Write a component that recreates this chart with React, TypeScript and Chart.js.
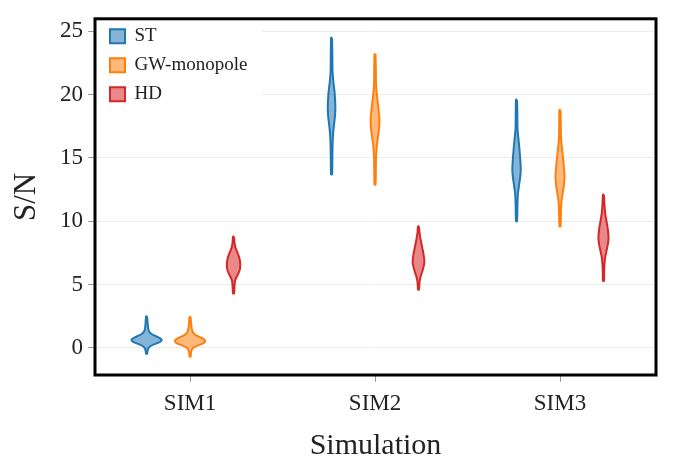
import React, { useEffect, useRef } from 'react';
import { Chart, registerables } from 'chart.js';

Chart.register(...registerables);

// ---------- data ----------
const simulations = ['SIM1', 'SIM2', 'SIM3'];
const seriesNames = ['ST', 'GW-monopole', 'HD'];
const yTicks = [0, 5, 10, 15, 20, 25];

// violin profiles: [S/N value, density] from top to bottom
const stSim1: [number, number][] = [
  [2.5, 0.5], [2.0, 1], [1.6, 1.5], [1.3, 2.5], [1.1, 5], [0.9, 10], [0.7, 14.5],
  [0.6, 15], [0.45, 13], [0.3, 8], [0.15, 4], [0.0, 2], [-0.2, 1], [-0.46, 0.5],
];
const gwSim1: [number, number][] = [
  [2.45, 0.5], [2.0, 1], [1.6, 1.5], [1.3, 2.5], [1.05, 5], [0.85, 10], [0.65, 14.5],
  [0.5, 15], [0.35, 13], [0.2, 8], [0.05, 4], [-0.1, 2], [-0.35, 1], [-0.7, 0.5],
];
const hdSim1: [number, number][] = [
  [8.8, 0.5], [8.3, 1], [7.9, 2], [7.6, 3.5], [7.2, 5.5], [6.8, 6.5], [6.5, 6.7],
  [6.2, 6.3], [5.9, 5], [5.6, 3], [5.3, 1.5], [4.9, 1], [4.3, 0.5],
];
const stSim2: [number, number][] = [
  [24.5, 0.5], [23.0, 0.8], [21.8, 1], [21.0, 1.8], [20.2, 3], [19.3, 3.7], [18.9, 3.8],
  [18.3, 3.4], [17.6, 2.4], [16.9, 1.5], [16.0, 1], [15.0, 0.8], [13.7, 0.5],
];
const gwSim2: [number, number][] = [
  [23.2, 0.5], [22.0, 0.8], [20.8, 1], [20.0, 1.8], [19.2, 3], [18.3, 4.2], [17.9, 4.4],
  [17.3, 4], [16.6, 2.8], [15.8, 1.6], [15.0, 1], [14.0, 0.8], [12.9, 0.5],
];
const hdSim2: [number, number][] = [
  [9.6, 0.5], [9.1, 1], [8.6, 2], [8.0, 3.5], [7.4, 5], [6.9, 5.8], [6.6, 5.6],
  [6.1, 4], [5.6, 2], [5.2, 1], [4.6, 0.5],
];
const stSim3: [number, number][] = [
  [19.6, 0.5], [18.5, 0.8], [17.3, 1], [16.6, 1.8], [15.8, 2.8], [14.8, 3.8], [14.1, 4.2],
  [13.5, 3.7], [12.8, 2.4], [12.1, 1.3], [11.2, 0.9], [10.0, 0.5],
];
const gwSim3: [number, number][] = [
  [18.8, 0.5], [17.7, 0.8], [16.6, 1], [15.9, 1.8], [15.0, 3], [14.0, 4.2], [13.4, 4.5],
  [12.8, 3.8], [12.1, 2.4], [11.4, 1.3], [10.6, 0.9], [9.6, 0.5],
];
const hdSim3: [number, number][] = [
  [12.1, 0.5], [11.3, 1], [10.6, 1.8], [10.0, 3], [9.4, 4.3], [8.8, 5], [8.4, 4.8],
  [7.8, 3.4], [7.2, 1.8], [6.6, 1], [6.0, 0.7], [5.3, 0.5],
];

const profiles = [
  [stSim1, gwSim1, hdSim1],
  [stSim2, gwSim2, hdSim2],
  [stSim3, gwSim3, hdSim3],
];

// ---------- style ----------
const borderColors = ['#1f77b4', '#ff7f0e', '#d62728'];
const fillColors = ['rgba(31,119,180,0.55)', 'rgba(255,127,14,0.55)', 'rgba(214,39,40,0.55)'];
const groupOffset = 0.235;
const DENSITY_SCALE = 1 / 185;
const FONT = '"Liberation Serif", "Times New Roman", serif';

function outline(center: number, profile: [number, number][]) {
  const right = profile.map(([y, d]) => ({ x: center + d * DENSITY_SCALE, y }));
  const left = profile
    .slice()
    .reverse()
    .map(([y, d]) => ({ x: center - d * DENSITY_SCALE, y }));
  return [...right, ...left, right[0]];
}

const legendPlace = {
  id: 'legendPlace',
  afterLayout(chart: any) {
    const lg = chart.legend;
    if (!lg) return;
    const a = chart.chartArea;
    lg.left = a.left + 5;
    lg.top = a.top - 2;
    lg.right = lg.left + 220;
    lg.bottom = lg.top + 120;
  },
};

const frameAndLegendBg = {
  id: 'frameAndLegendBg',
  beforeDatasetsDraw(chart: any) {
    const ctx = chart.ctx;
    const a = chart.chartArea;
    ctx.save();
    ctx.fillStyle = '#ffffff';
    ctx.fillRect(a.left + 2, a.top + 2, 165, 100);
    ctx.restore();
    if (chart.legend) chart.legend.draw();
  },
  afterDraw(chart: any) {
    const ctx = chart.ctx;
    const a = chart.chartArea;
    ctx.save();
    ctx.strokeStyle = '#000000';
    ctx.lineWidth = 3;
    ctx.strokeRect(a.left, a.top, a.right - a.left, a.bottom - a.top);
    ctx.restore();
  },
};

export default function App() {
  const ref = useRef<HTMLCanvasElement | null>(null);

  useEffect(() => {
    if (!ref.current) return;
    const datasets: any[] = [];
    profiles.forEach((group, si) => {
      group.forEach((profile, ki) => {
        datasets.push({
          label: seriesNames[ki],
          data: outline(si + (ki - 1) * groupOffset, profile),
          showLine: true,
          fill: 'shape',
          borderColor: borderColors[ki],
          backgroundColor: fillColors[ki],
          borderWidth: 2,
          pointRadius: 0,
          pointHoverRadius: 0,
          tension: 0.25,
        });
      });
    });

    const chart = new Chart(ref.current, {
      type: 'scatter',
      data: { datasets },
      plugins: [legendPlace, frameAndLegendBg],
      options: {
        animation: false,
        responsive: false,
        maintainAspectRatio: false,
        layout: { padding: { left: 0, top: 7, right: 19, bottom: 0 } },
        plugins: {
          tooltip: { enabled: false },
          legend: {
            position: 'chartArea' as any,
            align: 'start',
            labels: {
              filter: (item: any) => item.datasetIndex < 3,
              boxWidth: 15,
              boxHeight: 14,
              padding: 10,
              color: '#222',
              font: { family: FONT, size: 19 },
            },
          },
        },
        scales: {
          x: {
            type: 'linear',
            min: -0.514,
            max: 2.519,
            afterBuildTicks: (scale: any) => {
              scale.ticks = simulations.map((_, i) => ({ value: i }));
            },
            afterFit: (scale: any) => {
              scale.height = 85;
            },
            grid: {
              drawOnChartArea: false,
              drawTicks: true,
              tickLength: 7,
              tickColor: '#999',
            },
            border: { display: false },
            ticks: {
              padding: 8,
              color: '#222',
              font: { family: FONT, size: 23 },
              callback: (v: any) => simulations[Math.round(Number(v))] ?? '',
            },
            title: {
              display: true,
              text: 'Simulation',
              color: '#222',
              font: { family: FONT, size: 30, lineHeight: 1 },
              padding: { top: 0, bottom: -1 },
            },
          },
          y: {
            type: 'linear',
            min: -2.14,
            max: 25.99,
            afterBuildTicks: (scale: any) => {
              scale.ticks = yTicks.map((v) => ({ value: v }));
            },
            afterFit: (scale: any) => {
              scale.width = 95;
            },
            grid: {
              color: '#ececec',
              lineWidth: 1,
              drawTicks: true,
              tickLength: 7,
              tickColor: '#999',
            },
            border: { display: false },
            ticks: {
              padding: 5,
              color: '#222',
              font: { family: FONT, size: 23 },
            },
            title: {
              display: true,
              text: 'S/N',
              color: '#222',
              font: { family: FONT, size: 31, lineHeight: 1 },
              padding: { top: 11, bottom: 0 },
            },
          },
        },
      },
    });
    return () => chart.destroy();
  }, []);

  return (
    <div style={{ position: 'fixed', left: 0, top: 0, width: 675, height: 460, background: '#fff' }}>
      <canvas ref={ref} width={675} height={460} style={{ width: 675, height: 460 }} />
    </div>
  );
}
